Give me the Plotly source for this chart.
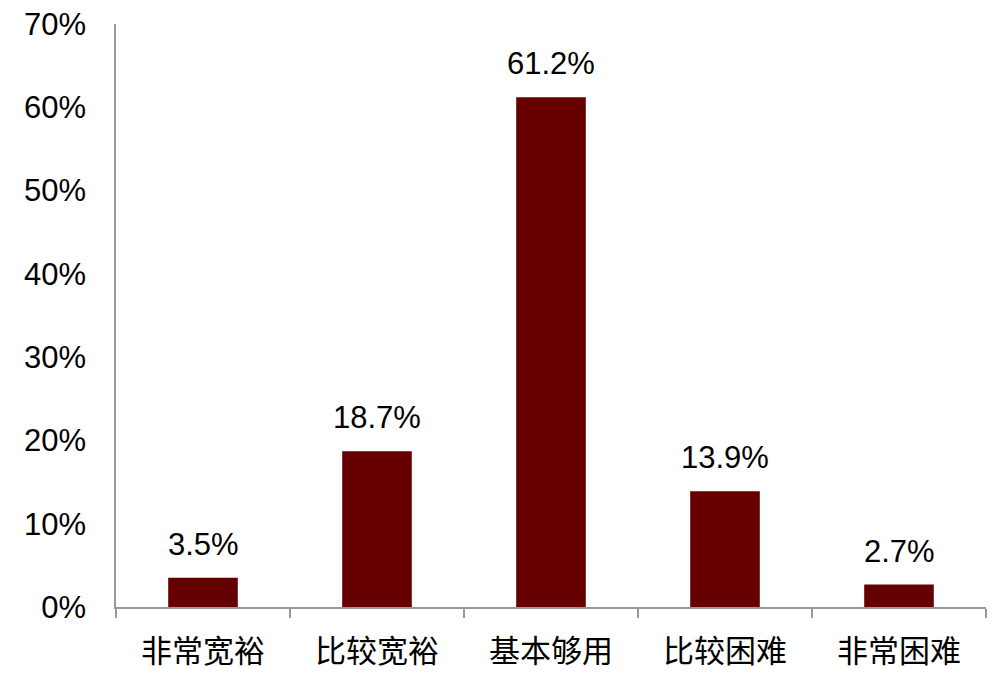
import plotly.graph_objects as go

# 数据
categories = ["非常宽裕", "比较宽裕", "基本够用", "比较困难", "非常困难"]
shares = [3.5, 18.7, 61.2, 13.9, 2.7]
y_ticks = [0, 10, 20, 30, 40, 50, 60, 70]
y_tick_labels = [f"{v}%" for v in y_ticks]

fig = go.Figure()
fig.add_trace(go.Bar(
    x=categories,
    y=shares,
    marker=dict(color="#660000", line=dict(width=0)),
    width=0.4,
))

# 数据标签
for c, v in zip(categories, shares):
    fig.add_annotation(
        x=c, y=v, text=f"{v}%", showarrow=False,
        yanchor="bottom", yshift=14,
        font=dict(family="Liberation Sans, Arial", size=31, color="#000000"),
    )

# page body has an 8px margin, so the figure is a bit smaller than the window
fig.update_layout(
    width=1000, height=672,
    margin=dict(l=108, r=22, t=16, b=73),
    plot_bgcolor="white", paper_bgcolor="white",
    showlegend=False,
    bargap=0.6,
    xaxis=dict(
        showline=True, linecolor="#999999", linewidth=1.5,
        ticks="outside", tickson="boundaries", ticklen=9, tickcolor="#999999", tickwidth=1.5,
        tickfont=dict(family="Noto Sans CJK SC", size=31, color="#000000"),
        ticklabelstandoff=16,
        automargin=False,
    ),
    yaxis=dict(
        range=[0, 70],
        tickvals=y_ticks, ticktext=y_tick_labels,
        showline=True, linecolor="#999999", linewidth=1.5,
        showgrid=False, zeroline=False, ticks="",
        tickfont=dict(family="Liberation Sans, Arial", size=31, color="#000000"),
        ticklabelstandoff=22,
        ticklabeloverflow="allow",
        automargin=False,
    ),
)

fig.write_html("out.html")
